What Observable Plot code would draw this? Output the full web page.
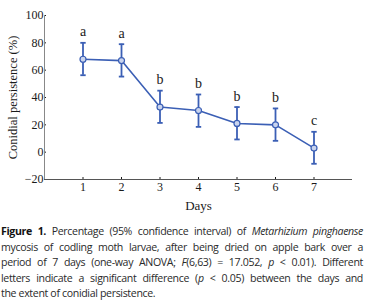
<!DOCTYPE html>
<html><head><meta charset="utf-8">
<script src="https://cdn.jsdelivr.net/npm/d3@7"></script>
<script src="https://cdn.jsdelivr.net/npm/@observablehq/plot@0.6"></script>
<style>
body{margin:0;background:#fff;width:371px;}
#cap{font-family:"Open Sans",sans-serif;font-size:10.6px;line-height:15.5px;color:#2a2a2a;margin:8px 8px 0 1px;letter-spacing:-0.35px;}
#cap div{text-align:justify;text-align-last:justify;white-space:nowrap;}
#cap div.last{text-align-last:left;}
#cap b{color:#111;}
</style></head><body>
<div id="chart"></div>
<div id="cap">
<div><b>Figure 1.</b> Percentage (95% confidence interval) of <i>Metarhizium pinghaense</i></div>
<div>mycosis of codling moth larvae, after being dried on apple bark over a</div>
<div>period of 7 days (one-way ANOVA; <i>F</i>(6,63) = 17.052, <i>p</i> &lt; 0.01). Different</div>
<div>letters indicate a significant difference (<i>p</i> &lt; 0.05) between the days and</div>
<div class="last">the extent of conidial persistence.</div>
</div>
<script>
const days = [1,2,3,4,5,6,7];
const means = [68,67,33,30.5,21,20,3];
const lower = [56.3,55.3,21.4,18.5,9.3,8.3,-8.5];
const upper = [80,79,45,42.2,33,32,14.9];
const letters = ["a","a","b","b","b","b","c"];
const yTicks = [-20,0,20,40,60,80,100];
const data = days.map((d,i)=>({day:d,mean:means[i],lo:lower[i],hi:upper[i],letter:letters[i]}));
const blue = "#3b5fb5";
const capW = 0.07;
const chart = Plot.plot({
  width:371, height:216,
  marginLeft:44, marginRight:19, marginTop:15, marginBottom:37,
  style:{fontFamily:"'Liberation Serif',serif", fontSize:"12px", color:"#1a1a1a", background:"#fff"},
  x:{domain:[0,8], ticks:days, tickSize:-2, tickPadding:5, label:null},
  y:{domain:[-20,100], ticks:yTicks, tickSize:-2, tickPadding:3, label:null},
  marks:[
    Plot.ruleX([0],{stroke:"#888",strokeWidth:1}),
    Plot.ruleY([-20],{stroke:"#555",strokeWidth:1}),
    Plot.ruleX(data,{x:"day",y1:"lo",y2:"hi",stroke:blue,strokeWidth:1.8}),
    Plot.link(data,{x1:d=>d.day-capW,x2:d=>d.day+capW,y1:"lo",y2:"lo",stroke:blue,strokeWidth:1.8}),
    Plot.link(data,{x1:d=>d.day-capW,x2:d=>d.day+capW,y1:"hi",y2:"hi",stroke:blue,strokeWidth:1.8}),
    Plot.line(data,{x:"day",y:"mean",stroke:blue,strokeWidth:1.6}),
    Plot.dot(data,{x:"day",y:"mean",r:3,stroke:blue,fill:"#c9d4ee",strokeWidth:1.2}),
    Plot.text(data,{x:"day",y:"hi",text:"letter",dy:-11,fontSize:14,fill:"#1a1a1a",fontFamily:"'Liberation Serif',serif"}),
    Plot.text(["Days"],{frameAnchor:"bottom",dy:30,fontSize:13,fill:"#1a1a1a",fontFamily:"'Liberation Serif',serif"}),
    Plot.text(["Conidial persistence (%)"],{frameAnchor:"left",textAnchor:"middle",dx:-32,rotate:-90,fontSize:12.5,fill:"#1a1a1a",fontFamily:"'Liberation Serif',serif"})
  ]
});
document.getElementById("chart").append(chart);
</script>
</body></html>
